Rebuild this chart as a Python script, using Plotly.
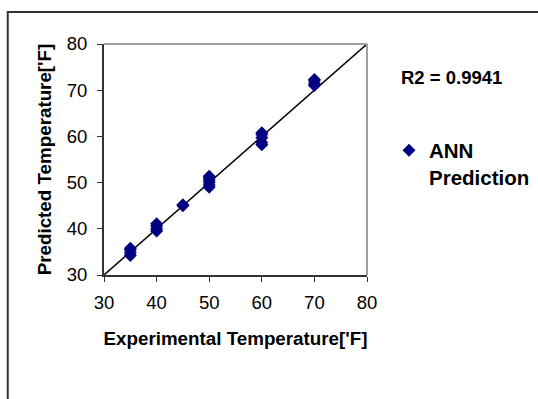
import plotly.graph_objects as go

# Data
exp_x = [35, 35, 35, 35,
         40, 40, 40, 40,
         45, 45,
         50, 50, 50, 50, 50, 50,
         60, 60, 60, 60, 60,
         70, 70, 70, 70]
pred_y = [34.2, 34.8, 35.4, 35.8,
          39.5, 40.0, 40.6, 41.1,
          45.0, 45.2,
          49.0, 49.5, 50.0, 50.5, 51.0, 51.4,
          58.2, 58.7, 59.7, 60.4, 60.8,
          71.0, 71.4, 72.0, 72.3]
fit_x = [30, 80]
fit_y = [30, 80]
tick_vals = [30, 40, 50, 60, 70, 80]
series_name = "ANN<br>Prediction"
r2_text = "R2 = 0.9941"

FONT = "Liberation Sans, Arial, sans-serif"

fig = go.Figure()
fig.add_trace(go.Scatter(
    x=fit_x, y=fit_y, mode="lines",
    line=dict(color="black", width=1.5),
    showlegend=False, hoverinfo="skip"))
fig.add_trace(go.Scatter(
    x=exp_x, y=pred_y, mode="markers", name=series_name,
    marker=dict(symbol="diamond", size=10, color="#000080")))

axis_common = dict(
    range=[30, 80], tickvals=tick_vals, showgrid=False, zeroline=False,
    showline=True, linecolor="#333333", linewidth=2,
    ticks="outside", ticklen=5, tickcolor="#333333", tickwidth=1,
    tickfont=dict(family=FONT, size=18.5, color="black"))

fig.update_xaxes(**axis_common, ticklabelstandoff=5,
                 title=dict(text="<b>Experimental Temperature['F]</b>",
                            font=dict(family=FONT, size=18.8, color="black"),
                            standoff=20))
fig.update_yaxes(**axis_common, ticklabelstandoff=6,
                 title=dict(text="<b>Predicted Temperature['F]</b>",
                            font=dict(family=FONT, size=18.8, color="black"),
                            standoff=10))

fig.update_layout(
    width=538, height=399,
    margin=dict(l=104, r=171, t=44, b=124, autoexpand=False),
    paper_bgcolor="white", plot_bgcolor="white",
    font=dict(family=FONT, color="black"),
    showlegend=True,
    legend=dict(xref="container", yref="container",
                x=0.723, y=0.673, xanchor="left", yanchor="top",
                valign="top", bgcolor="rgba(0,0,0,0)",
                font=dict(family=FONT, size=20.5, color="black", weight="bold")),
    shapes=[
        # outer chart frame
        dict(type="rect", xref="paper", yref="paper",
             x0=-0.366, x1=2.0, y0=-1.0, y1=1.138,
             line=dict(color="#333333", width=2)),
        # plot area top and right borders (light gray)
        dict(type="line", xref="paper", yref="paper", x0=0, x1=1, y0=1, y1=1,
             line=dict(color="#A0A0A0", width=2)),
        dict(type="line", xref="paper", yref="paper", x0=1, x1=1, y0=0, y1=1,
             line=dict(color="#A0A0A0", width=2)),
    ],
    annotations=[
        dict(text="<b>" + r2_text + "</b>", xref="paper", yref="paper",
             x=1.12, y=0.854, xanchor="left", yanchor="middle",
             showarrow=False, font=dict(family=FONT, size=18.5, color="black")),
    ],
)

fig.write_html("out.html",
               config={"displayModeBar": False},
               post_script="document.body.style.margin='0';"
                           "document.body.style.overflow='hidden';")
